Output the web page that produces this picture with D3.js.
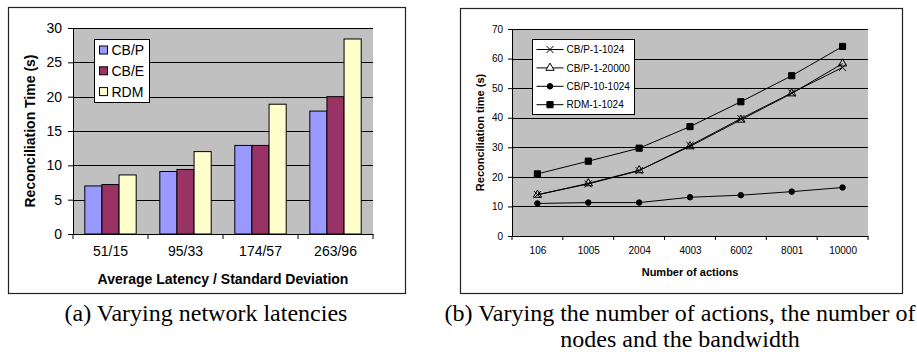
<!DOCTYPE html>
<html>
<head>
<meta charset="utf-8">
<script src="https://cdn.jsdelivr.net/npm/d3@7"></script>
<style>
  body { margin: 0; background: #fff; }
  svg { display: block; }
</style>
</head>
<body>
<svg id="chart"></svg>
<script>
// (a) latency chart
const latencyLabels = ["51/15", "95/33", "174/57", "263/96"];
const latencySeries = ["CB/P", "CB/E", "RDM"];
const cbpTimes = [7.0, 9.1, 12.9, 17.9];
const cbeTimes = [7.2, 9.4, 12.9, 20.0];
const rdmTimes = [8.6, 12.0, 18.9, 28.4];
const latencyTicks = [0, 5, 10, 15, 20, 25, 30];

// (b) actions chart
const actionLabels = ["106", "1005", "2004", "4003", "6002", "8001", "10000"];
const actionSeries = ["CB/P-1-1024", "CB/P-1-20000", "CB/P-10-1024", "RDM-1-1024"];
const cbp1_1024 = [14.0, 17.6, 22.1, 30.6, 39.7, 48.4, 57.0];
const cbp1_20000 = [13.9, 17.8, 22.2, 30.3, 39.3, 48.2, 58.3];
const cbp10_1024 = [11.0, 11.3, 11.3, 13.1, 13.8, 15.0, 16.4];
const rdm1_1024 = [21.0, 25.3, 29.7, 37.0, 45.4, 54.2, 64.1];
const actionTicks = [0, 10, 20, 30, 40, 50, 60, 70];

const W = 917, H = 352;
const sans = "'Liberation Sans', Arial, sans-serif";
const serif = "'Liberation Serif', 'Times New Roman', serif";
const plotBg = "#c0c0c0";

const svg = d3.select("#chart")
    .attr("width", W)
    .attr("height", H)
    .attr("viewBox", [0, 0, W, H]);

svg.append("rect").attr("width", W).attr("height", H).attr("fill", "#fff");

// ---------- panel (a): grouped bars ----------
{
    const frame = { x: 8.5, y: 7.5, w: 397, h: 286 };
    const m = { left: 73, right: 373, top: 28, bottom: 234 };
    const colors = { "CB/P": "#9999ff", "CB/E": "#993366", "RDM": "#ffffcc" };
    const valuesBy = { "CB/P": cbpTimes, "CB/E": cbeTimes, "RDM": rdmTimes };

    svg.append("rect")
        .attr("x", frame.x).attr("y", frame.y)
        .attr("width", frame.w).attr("height", frame.h)
        .attr("fill", "#fff").attr("stroke", "#222").attr("stroke-width", 1.2);

    const x0 = d3.scaleBand().domain(latencyLabels).range([m.left, m.right]).padding(0);
    const x1 = d3.scaleBand().domain(latencySeries).range([0, x0.bandwidth()])
        .paddingInner(0).paddingOuter(0.69);
    const y = d3.scaleLinear().domain([0, 30]).range([m.bottom, m.top]);

    const g = svg.append("g");
    g.append("rect")
        .attr("x", m.left).attr("y", m.top)
        .attr("width", m.right - m.left).attr("height", m.bottom - m.top)
        .attr("fill", plotBg);

    // gridlines
    g.append("g").selectAll("line")
        .data(latencyTicks.filter(d => d > 0))
        .join("line")
        .attr("x1", m.left).attr("x2", m.right)
        .attr("y1", d => Math.round(y(d)) + 0.5).attr("y2", d => Math.round(y(d)) + 0.5)
        .attr("stroke", "#000").attr("stroke-width", 1);

    // bars
    const rows = latencyLabels.map((c, i) => ({ cat: c, vals: latencySeries.map(s => ({ key: s, value: valuesBy[s][i] })) }));
    g.append("g").selectAll("g")
        .data(rows)
        .join("g")
        .attr("transform", d => `translate(${x0(d.cat)},0)`)
        .selectAll("rect")
        .data(d => d.vals)
        .join("rect")
        .attr("x", d => x1(d.key))
        .attr("y", d => y(d.value))
        .attr("width", x1.bandwidth())
        .attr("height", d => y(0) - y(d.value))
        .attr("fill", d => colors[d.key])
        .attr("stroke", "#000").attr("stroke-width", 1);

    // y axis
    g.append("g")
        .attr("transform", `translate(${m.left},0)`)
        .call(d3.axisLeft(y).tickValues(latencyTicks).tickSize(5).tickPadding(6).tickSizeOuter(0))
        .call(a => a.select(".domain").attr("stroke", "#000"))
        .call(a => a.selectAll("text").attr("font-family", sans).attr("font-size", 14).attr("fill", "#000"));

    // x axis: labels centred, ticks at category boundaries
    g.append("g")
        .attr("transform", `translate(0,${m.bottom})`)
        .call(d3.axisBottom(x0).tickSize(0).tickPadding(12).tickSizeOuter(0))
        .call(a => a.select(".domain").attr("stroke", "#000"))
        .call(a => a.selectAll("text").attr("font-family", sans).attr("font-size", 14).attr("fill", "#000"));
    g.append("g").selectAll("line")
        .data(latencyLabels.map(c => x0(c)).concat([m.right]))
        .join("line")
        .attr("x1", d => d).attr("x2", d => d)
        .attr("y1", m.bottom).attr("y2", m.bottom + 5)
        .attr("stroke", "#000");

    // axis titles
    g.append("text")
        .attr("x", (m.left + m.right) / 2).attr("y", 284)
        .attr("text-anchor", "middle")
        .attr("font-family", sans).attr("font-size", 14).attr("font-weight", "bold")
        .text("Average Latency / Standard Deviation");
    g.append("text")
        .attr("transform", `translate(35,${(m.top + m.bottom) / 2}) rotate(-90)`)
        .attr("text-anchor", "middle")
        .attr("font-family", sans).attr("font-size", 14).attr("font-weight", "bold")
        .text("Reconciliation Time (s)");

    // legend
    const lg = g.append("g").attr("transform", "translate(94.5,39.5)");
    lg.append("rect").attr("width", 55).attr("height", 63)
        .attr("fill", "#fff").attr("stroke", "#000");
    const item = lg.selectAll("g.item")
        .data(latencySeries)
        .join("g")
        .attr("class", "item")
        .attr("transform", (d, i) => `translate(0,${10.5 + i * 20.8})`);
    item.append("rect")
        .attr("x", 5).attr("y", -4).attr("width", 8).attr("height", 8)
        .attr("fill", d => colors[d]).attr("stroke", "#000");
    item.append("text")
        .attr("x", 17).attr("dy", "0.36em")
        .attr("font-family", sans).attr("font-size", 14)
        .text(d => d);
}

// ---------- panel (b): lines with markers ----------
{
    const frame = { x: 460.5, y: 8.5, w: 442, h: 285 };
    const m = { left: 512, right: 868, top: 29, bottom: 236 };
    const valuesBy = {
        "CB/P-1-1024": cbp1_1024,
        "CB/P-1-20000": cbp1_20000,
        "CB/P-10-1024": cbp10_1024,
        "RDM-1-1024": rdm1_1024
    };
    const symbols = {
        "CB/P-1-1024": { type: d3.symbolX, size: 34, fill: "none" },
        "CB/P-1-20000": { type: d3.symbolTriangle, size: 30, fill: "none" },
        "CB/P-10-1024": { type: d3.symbolCircle, size: 24, fill: "#000" },
        "RDM-1-1024": { type: d3.symbolSquare, size: 38, fill: "#000" }
    };

    svg.append("rect")
        .attr("x", frame.x).attr("y", frame.y)
        .attr("width", frame.w).attr("height", frame.h)
        .attr("fill", "#fff").attr("stroke", "#222").attr("stroke-width", 1.2);

    const x = d3.scalePoint().domain(actionLabels).range([m.left, m.right]).padding(0.5);
    const y = d3.scaleLinear().domain([0, 70]).range([m.bottom, m.top]);

    const g = svg.append("g");
    g.append("rect")
        .attr("x", m.left).attr("y", m.top)
        .attr("width", m.right - m.left).attr("height", m.bottom - m.top)
        .attr("fill", plotBg);

    g.append("g").selectAll("line")
        .data(actionTicks.filter(d => d > 0))
        .join("line")
        .attr("x1", m.left).attr("x2", m.right)
        .attr("y1", d => Math.round(y(d)) + 0.5).attr("y2", d => Math.round(y(d)) + 0.5)
        .attr("stroke", "#000").attr("stroke-width", 1);

    const series = actionSeries.map(key => ({
        key,
        values: actionLabels.map((c, i) => ({ cat: c, value: valuesBy[key][i] }))
    }));

    const line = d3.line()
        .x(d => x(d.cat))
        .y(d => y(d.value));

    const serie = g.append("g").selectAll("g")
        .data(series)
        .join("g");

    serie.append("path")
        .attr("fill", "none")
        .attr("stroke", "#000")
        .attr("stroke-width", 1)
        .attr("d", d => line(d.values));

    serie.selectAll("path.mark")
        .data(d => d.values.map(v => ({ ...v, key: d.key })))
        .join("path")
        .attr("class", "mark")
        .attr("transform", d => `translate(${x(d.cat)},${y(d.value)})`)
        .attr("d", d => d3.symbol().type(symbols[d.key].type).size(symbols[d.key].size)())
        .attr("fill", d => symbols[d.key].fill)
        .attr("stroke", "#000").attr("stroke-width", 1);

    g.append("g")
        .attr("transform", `translate(${m.left},0)`)
        .call(d3.axisLeft(y).tickValues(actionTicks).tickSize(4).tickPadding(5).tickSizeOuter(0))
        .call(a => a.select(".domain").attr("stroke", "#000"))
        .call(a => a.selectAll("text").attr("font-family", sans).attr("font-size", 10).attr("fill", "#000"));

    g.append("g")
        .attr("transform", `translate(0,${m.bottom})`)
        .call(d3.axisBottom(x).tickSize(0).tickPadding(11).tickSizeOuter(0))
        .call(a => a.select(".domain").attr("stroke", "#000"))
        .call(a => a.selectAll("text").attr("font-family", sans).attr("font-size", 10).attr("fill", "#000"));
    g.append("g").selectAll("line")
        .data(actionLabels.map(c => x(c) - x.step() / 2).concat([m.right]))
        .join("line")
        .attr("x1", d => d).attr("x2", d => d)
        .attr("y1", m.bottom).attr("y2", m.bottom + 4)
        .attr("stroke", "#000");

    g.append("text")
        .attr("x", (m.left + m.right) / 2).attr("y", 276)
        .attr("text-anchor", "middle")
        .attr("font-family", sans).attr("font-size", 11).attr("font-weight", "bold")
        .text("Number of actions");
    g.append("text")
        .attr("transform", `translate(484,${(m.top + m.bottom) / 2}) rotate(-90)`)
        .attr("text-anchor", "middle")
        .attr("font-family", sans).attr("font-size", 11).attr("font-weight", "bold")
        .text("Reconciliation time (s)");

    // legend
    const lg = g.append("g").attr("transform", "translate(532.5,39.5)");
    lg.append("rect").attr("width", 102).attr("height", 75)
        .attr("fill", "#fff").attr("stroke", "#000");
    const item = lg.selectAll("g.item")
        .data(actionSeries)
        .join("g")
        .attr("class", "item")
        .attr("transform", (d, i) => `translate(0,${10 + i * 18.4})`);
    item.append("line")
        .attr("x1", 4).attr("x2", 31).attr("stroke", "#000");
    item.append("path")
        .attr("transform", "translate(17.5,0)")
        .attr("d", d => d3.symbol().type(symbols[d].type).size(symbols[d].size)())
        .attr("fill", d => symbols[d].fill === "none" ? "#fff" : symbols[d].fill)
        .attr("stroke", "#000");
    item.append("text")
        .attr("x", 34).attr("dy", "0.36em")
        .attr("font-family", sans).attr("font-size", 10)
        .text(d => d);
}

// ---------- captions ----------
svg.append("text")
    .attr("x", 206).attr("y", 321)
    .attr("text-anchor", "middle")
    .attr("font-family", serif).attr("font-size", 24)
    .text("(a) Varying network latencies");
svg.append("text")
    .attr("x", 680).attr("y", 321)
    .attr("text-anchor", "middle")
    .attr("font-family", serif).attr("font-size", 24)
    .text("(b) Varying the number of actions, the number of");
svg.append("text")
    .attr("x", 680).attr("y", 347)
    .attr("text-anchor", "middle")
    .attr("font-family", serif).attr("font-size", 24)
    .text("nodes and the bandwidth");
</script>
</body>
</html>
